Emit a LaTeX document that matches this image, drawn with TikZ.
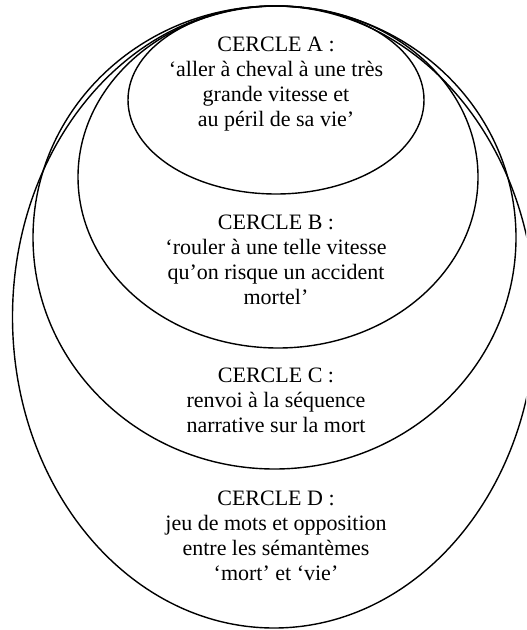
\documentclass[tikz,border=0pt]{standalone}
\usepackage{fontspec}
\setmainfont{Liberation Serif}
\usetikzlibrary{shapes.geometric}
\tikzset{
  circ/.style={draw=black, line width=0.7pt, ellipse, inner sep=0pt, outer sep=0pt},
  lbl/.style={align=center, font=\fontsize{11pt}{12.5pt}\selectfont, inner sep=0pt}
}
\begin{document}
\begin{tikzpicture}[x=0.5pt,y=-0.5pt]
\useasboundingbox (0,0) rectangle (526,630);
\clip (0,0) rectangle (526,630);
\fill[white] (0,0) rectangle (526,630);
\node[circ, minimum width=261.5pt, minimum height=311pt] (D) at (274,317) {};
\node[circ, minimum width=241.5pt, minimum height=231.5pt] (C) at (274.5,237.5) {};
\node[circ, minimum width=200pt, minimum height=171pt] (B) at (278,177) {};
\node[circ, minimum width=148pt, minimum height=94pt] (A) at (276,100) {};
\node[lbl] (tA) at (276,84.5) {CERCLE A :\\‘aller à cheval à une très\\grande vitesse et\\au péril de sa vie’};
\node[lbl] (tB) at (276,260) {CERCLE B :\\‘rouler à une telle vitesse\\qu’on risque un accident\\mortel’};
\node[lbl] (tC) at (276,400) {CERCLE C :\\renvoi à la séquence\\narrative sur la mort};
\node[lbl] (tD) at (276,535.5) {CERCLE D :\\jeu de mots et opposition\\entre les sémantèmes\\‘mort’ et ‘vie’};
\end{tikzpicture}
\end{document}
